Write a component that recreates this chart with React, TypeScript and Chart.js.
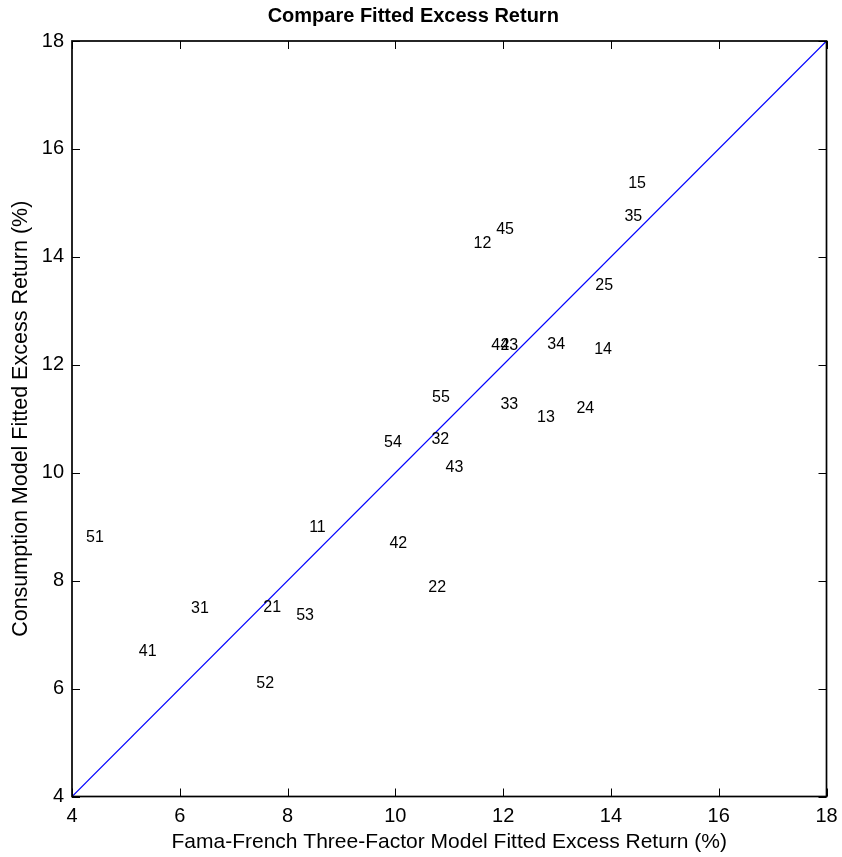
import { useEffect, useRef } from "react";
import { Chart, registerables } from "chart.js";

Chart.register(...registerables);

const portfolioLabels = [
  "11", "12", "13", "14", "15",
  "21", "22", "23", "24", "25",
  "31", "32", "33", "34", "35",
  "41", "42", "43", "44", "45",
  "51", "52", "53", "54", "55",
];
const famaFrenchValues = [
  8.40, 11.45, 12.63, 13.69, 14.32,
  7.55, 10.61, 11.95, 13.36, 13.71,
  6.21, 10.67, 11.95, 12.82, 14.25,
  5.24, 9.89, 10.93, 11.78, 11.87,
  4.26, 7.42, 8.16, 9.79, 10.68,
];
const consumptionValues = [
  8.99, 14.24, 11.03, 12.29, 15.35,
  7.50, 7.88, 12.36, 11.19, 13.46,
  7.49, 10.62, 11.27, 12.38, 14.75,
  6.69, 8.69, 10.10, 12.36, 14.51,
  8.80, 6.10, 7.36, 10.55, 11.40,
];
const axisTicks = [4, 6, 8, 10, 12, 14, 16, 18];
const diagonalLine = [4, 18];

const titleText = "Compare Fitted Excess Return";
const xTitleText = "Fama-French Three-Factor Model Fitted Excess Return (%)";
const yTitleText = "Consumption Model Fitted Excess Return (%)";

const FONT = "'Liberation Sans', Arial, Helvetica, sans-serif";

const labelPlugin = {
  id: "pointLabels",
  afterDatasetsDraw(chart: any) {
    const meta = chart.getDatasetMeta(0);
    const ctx = chart.ctx;
    ctx.save();
    ctx.fillStyle = "#000";
    ctx.font = `16px ${FONT}`;
    ctx.textAlign = "left";
    ctx.textBaseline = "middle";
    meta.data.forEach((el: any, i: number) => {
      ctx.fillText(portfolioLabels[i], el.x, el.y);
    });
    ctx.restore();
  },
};

const boxPlugin = {
  id: "boxFrame",
  afterDraw(chart: any) {
    const { ctx, chartArea } = chart;
    const { left, right, top, bottom } = chartArea;
    const xs = chart.scales.x;
    const ys = chart.scales.y;
    const tl = 8;
    ctx.save();
    ctx.strokeStyle = "#000";
    ctx.lineWidth = 1.7;
    ctx.strokeRect(left, top, right - left, bottom - top);
    ctx.lineWidth = 1;
    ctx.beginPath();
    xs.ticks.forEach((t: any) => {
      const px = Math.round(xs.getPixelForValue(t.value)) + 0.5;
      ctx.moveTo(px, bottom);
      ctx.lineTo(px, bottom - tl);
      ctx.moveTo(px, top);
      ctx.lineTo(px, top + tl);
    });
    ys.ticks.forEach((t: any) => {
      const py = Math.round(ys.getPixelForValue(t.value)) + 0.5;
      ctx.moveTo(left, py);
      ctx.lineTo(left + tl, py);
      ctx.moveTo(right, py);
      ctx.lineTo(right - tl, py);
    });
    ctx.stroke();
    ctx.restore();
  },
};

export default function App() {
  const ref = useRef<HTMLCanvasElement | null>(null);

  useEffect(() => {
    if (!ref.current) return;
    Chart.defaults.font.family = FONT;
    Chart.defaults.color = "#000";
    const chart = new Chart(ref.current, {
      type: "scatter",
      data: {
        datasets: [
          {
            label: "Portfolios",
            data: famaFrenchValues.map((x, i) => ({ x, y: consumptionValues[i] })),
            pointRadius: 0,
            pointHoverRadius: 0,
            showLine: false,
            borderColor: "rgba(0,0,0,0)",
            backgroundColor: "rgba(0,0,0,0)",
          },
          {
            label: "45-degree line",
            data: diagonalLine.map((v) => ({ x: v, y: v })),
            showLine: true,
            borderColor: "#0000ff",
            backgroundColor: "#0000ff",
            borderWidth: 1.2,
            pointRadius: 0,
            fill: false,
          },
        ],
      },
      options: {
        responsive: false,
        animation: false,
        events: [],
        layout: { padding: { left: 0, right: 15.5, top: 0, bottom: 0 } },
        plugins: {
          legend: { display: false },
          tooltip: { enabled: false },
          title: {
            display: true,
            text: titleText,
            color: "#000",
            font: { size: 20, weight: "bold", family: FONT },
            padding: { top: 4, bottom: 13 },
          },
        },
        scales: {
          x: {
            type: "linear",
            min: 4,
            max: 18,
            grid: { display: false, drawTicks: false },
            border: { display: false },
            afterBuildTicks: (s: any) => {
              s.ticks = axisTicks.map((v) => ({ value: v }));
            },
            afterFit: (s: any) => {
              s.height = 60.5;
              s.paddingLeft = 0;
              s.paddingRight = 0;
            },
            ticks: {
              padding: 7.5,
              color: "#000",
              font: { size: 20, family: FONT },
              maxRotation: 0,
              autoSkip: false,
            },
            title: {
              display: true,
              text: xTitleText,
              color: "#000",
              font: { size: 21, family: FONT },
              padding: { top: 0, bottom: 2.5 },
            },
          },
          y: {
            type: "linear",
            min: 4,
            max: 18,
            grid: { display: false, drawTicks: false },
            border: { display: false },
            afterBuildTicks: (s: any) => {
              s.ticks = axisTicks.map((v) => ({ value: v }));
            },
            afterFit: (s: any) => {
              s.width = 72;
              s.paddingTop = 0;
              s.paddingBottom = 0;
            },
            ticks: {
              padding: 8,
              color: "#000",
              font: { size: 20, family: FONT },
              autoSkip: false,
            },
            title: {
              display: true,
              text: yTitleText,
              color: "#000",
              font: { size: 21.5, family: FONT },
              padding: { top: 8, bottom: 0 },
            },
          },
        },
      },
      plugins: [labelPlugin, boxPlugin],
    } as any);
    return () => chart.destroy();
  }, []);

  return (
    <div style={{ position: "absolute", left: 0, top: 0, width: 842, height: 857, background: "#fff" }}>
      <canvas ref={ref} width={842} height={857} style={{ width: 842, height: 857, display: "block" }} />
    </div>
  );
}
